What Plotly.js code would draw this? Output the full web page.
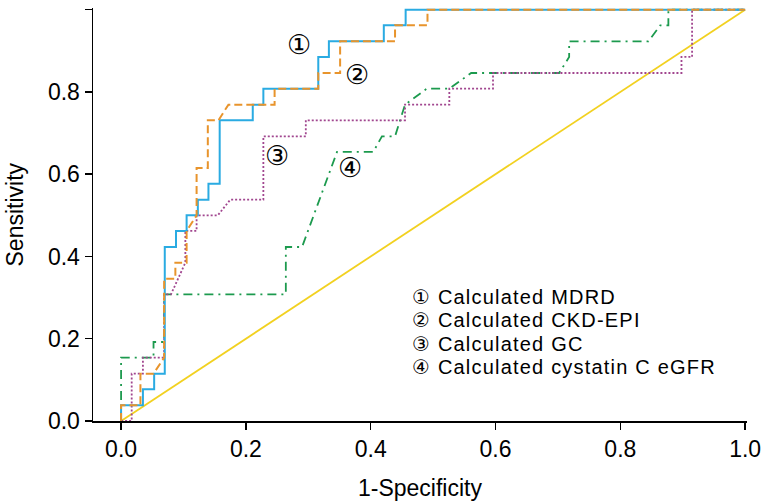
<!DOCTYPE html>
<html>
<head>
<meta charset="utf-8">
<script src="https://cdn.plot.ly/plotly-3.0.1.min.js"></script>
<style>
html,body{margin:0;padding:0;background:#fff;}
#chart{width:763px;height:502px;}
text[style*="font-size: 20px"]{letter-spacing:1.2px;}
</style>
</head>
<body>
<div id="chart"></div>
<script>
// ROC curves: 1-Specificity (x) vs Sensitivity (y)
var mdrdX = [0, 0, 0.035, 0.035, 0.053, 0.053, 0.070, 0.070, 0.088, 0.088, 0.105, 0.105, 0.123, 0.123, 0.140, 0.140, 0.158, 0.158, 0.211, 0.211, 0.228, 0.228, 0.316, 0.316, 0.333, 0.333, 0.421, 0.421, 0.456, 0.456, 1];
var mdrdY = [0, 0.038, 0.038, 0.077, 0.077, 0.115, 0.115, 0.423, 0.423, 0.462, 0.462, 0.500, 0.500, 0.538, 0.538, 0.577, 0.577, 0.731, 0.731, 0.769, 0.769, 0.808, 0.808, 0.885, 0.885, 0.923, 0.923, 0.962, 0.962, 1, 1];

var ckdX = [0, 0, 0.031, 0.031, 0.052, 0.069, 0.069, 0.087, 0.087, 0.105, 0.105, 0.121, 0.121, 0.139, 0.139, 0.156, 0.172, 0.246, 0.246, 0.316, 0.316, 0.351, 0.351, 0.439, 0.439, 0.491, 0.491, 1];
var ckdY = [0, 0.038, 0.038, 0.115, 0.115, 0.154, 0.346, 0.346, 0.385, 0.385, 0.462, 0.500, 0.615, 0.615, 0.731, 0.731, 0.769, 0.769, 0.808, 0.808, 0.846, 0.846, 0.923, 0.923, 0.962, 0.962, 1, 1];

var gcX = [0, 0.017, 0.017, 0.035, 0.035, 0.069, 0.069, 0.080, 0.103, 0.103, 0.121, 0.121, 0.155, 0.175, 0.228, 0.228, 0.296, 0.296, 0.455, 0.455, 0.526, 0.526, 0.596, 0.596, 0.898, 0.898, 0.915, 0.915, 1];
var gcY = [0, 0, 0.115, 0.115, 0.154, 0.154, 0.308, 0.308, 0.385, 0.462, 0.462, 0.500, 0.500, 0.538, 0.538, 0.692, 0.692, 0.731, 0.731, 0.769, 0.769, 0.808, 0.808, 0.846, 0.846, 0.885, 0.885, 1, 1];

var cysX = [0, 0, 0.052, 0.052, 0.069, 0.069, 0.264, 0.264, 0.290, 0.346, 0.404, 0.418, 0.439, 0.455, 0.490, 0.526, 0.561, 0.702, 0.718, 0.718, 0.845, 0.864, 0.877, 0.877, 1];
var cysY = [0, 0.154, 0.154, 0.192, 0.192, 0.308, 0.308, 0.423, 0.423, 0.654, 0.654, 0.692, 0.692, 0.769, 0.808, 0.808, 0.846, 0.846, 0.885, 0.923, 0.923, 0.962, 0.962, 1, 1];

var refX = [0, 1];
var refY = [0, 1];

var xTicks = [0, 0.2, 0.4, 0.6, 0.8, 1.0];
var yTicks = [0, 0.2, 0.4, 0.6, 0.8, 1.0];
var tickText = ['0.0', '0.2', '0.4', '0.6', '0.8', '1.0'];

var curveLabels = ['\u2460', '\u2461', '\u2462', '\u2463'];
var labelX = [0.285, 0.378, 0.250, 0.367];
var labelY = [0.915, 0.842, 0.645, 0.616];

var legendLines = ['\u2460 Calculated MDRD', '\u2461 Calculated CKD-EPI', '\u2462 Calculated GC', '\u2463 Calculated cystatin C eGFR'];
var legendY = [0.302, 0.245, 0.188, 0.131];

var xTitle = '1-Specificity';
var yTitle = 'Sensitivity';

var FONT = 'Liberation Sans, Arial, DejaVu Sans, sans-serif';

var traces = [
  {x: refX, y: refY, mode: 'lines', line: {color: '#F2D120', width: 1.8}, hoverinfo: 'skip'},
  {x: cysX, y: cysY, mode: 'lines', line: {color: '#1C9A4E', width: 1.8, dash: '9px,5px,2px,5px'}},
  {x: gcX, y: gcY, mode: 'lines', line: {color: '#A1468F', width: 1.8, dash: '2px,2px'}},
  {x: mdrdX, y: mdrdY, mode: 'lines', line: {color: '#2AABE2', width: 2}},
  {x: ckdX, y: ckdY, mode: 'lines', line: {color: '#E8942C', width: 2, dash: '8px,4px'}}
];

var annotations = [];
for (var i = 0; i < curveLabels.length; i++) {
  annotations.push({x: labelX[i], y: labelY[i], xref: 'x', yref: 'y', text: curveLabels[i], showarrow: false,
    font: {family: FONT, size: 27, color: '#000'}});
}
for (var j = 0; j < legendLines.length; j++) {
  annotations.push({x: 0.465, y: legendY[j], xref: 'x', yref: 'y', text: legendLines[j], showarrow: false,
    xanchor: 'left', yanchor: 'middle', borderpad: 0,
    font: {family: FONT, size: 20, color: '#000'}});
}
// axis titles
annotations.push({x: 0.5, y: 0, xref: 'paper', yref: 'paper', yshift: -67, text: xTitle, showarrow: false,
  xanchor: 'center', yanchor: 'middle', font: {family: FONT, size: 23, color: '#000'}});
annotations.push({x: 0, y: 0.5, xref: 'paper', yref: 'paper', xshift: -79, text: yTitle, showarrow: false, textangle: -90,
  xanchor: 'center', yanchor: 'middle', font: {family: FONT, size: 23, color: '#000'}});

var layout = {
  width: 763, height: 502,
  margin: {l: 93, r: 16, t: 8, b: 81},
  paper_bgcolor: '#fff', plot_bgcolor: '#fff',
  showlegend: false,
  font: {family: FONT, color: '#000'},
  xaxis: {
    range: [-0.045, 1.003], tickvals: xTicks, ticktext: tickText, automargin: false,
    showgrid: false, zeroline: false, showline: true, linecolor: '#000', linewidth: 1.5,
    ticks: 'outside', ticklen: 7, tickwidth: 1.5, tickcolor: '#000',
    tickfont: {family: FONT, size: 23, color: '#000'}
  },
  yaxis: {
    range: [0, 1.004], tickvals: yTicks, ticktext: tickText, automargin: false,
    showgrid: false, zeroline: false, showline: true, linecolor: '#000', linewidth: 1.5,
    ticks: 'outside', ticklen: 7, tickwidth: 1.5, tickcolor: '#000',
    tickfont: {family: FONT, size: 23, color: '#000'}
  },
  annotations: annotations
};

Plotly.newPlot('chart', traces, layout, {displayModeBar: false, staticPlot: true});
</script>
</body>
</html>
